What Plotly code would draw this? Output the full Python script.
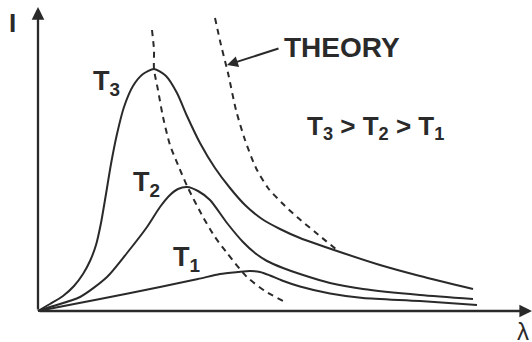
import plotly.graph_objects as go

# Schematic blackbody spectra (arbitrary units): wavelength vs intensity
lam_t3 = [0, 12, 25, 36, 45, 52, 58, 63, 68, 73, 79, 86, 95, 105, 116, 128, 139, 149, 162, 177, 192, 207, 224, 242, 262, 299, 342, 382, 435]
int_t3 = [0, 7, 15, 25, 37, 50, 66, 88, 117, 147, 177, 204, 225, 237, 242, 235, 218, 195, 168, 143, 123, 106, 92, 82, 73, 60, 46, 35, 22]

lam_t2 = [0, 12, 42, 69, 89, 109, 122, 132, 140, 149, 160, 172, 189, 205, 217, 229, 245, 262, 292, 325, 382, 435]
int_t2 = [0, 4, 14, 34, 58, 84, 104, 116, 122, 124, 120, 111, 88, 69, 58, 50, 43, 37, 28, 22, 16, 12]

lam_t1 = [0, 62, 122, 160, 182, 200, 212, 222, 232, 244, 262, 292, 325, 382, 439]
int_t1 = [0, 12, 24, 32, 37, 39, 40, 39, 35.5, 30.5, 24.5, 17.5, 13, 10, 6]

# Locus of peaks (Wien) and classical "theory" curve
lam_peak = [114, 116, 116, 120, 125, 132, 140, 150, 165, 177, 189, 209, 227, 245]
int_peak = [281, 261, 242, 221, 194, 166, 146, 123, 94, 74, 58, 34, 20, 10]

lam_theory = [177, 183, 190, 198, 207, 218, 230, 244, 259, 277, 299]
int_theory = [293, 266, 238, 201, 171, 143, 123, 108, 94, 79, 61]

INK = "#2a2a2a"
FONT = "Liberation Sans, Arial, sans-serif"

fig = go.Figure()

for lx, ly in [(lam_t3, int_t3), (lam_t2, int_t2), (lam_t1, int_t1)]:
    fig.add_trace(go.Scatter(x=lx, y=ly, mode="lines",
                             line=dict(color=INK, width=2, shape="spline", smoothing=0.7),
                             hoverinfo="skip", showlegend=False))

for lx, ly in [(lam_peak, int_peak), (lam_theory, int_theory)]:
    fig.add_trace(go.Scatter(x=lx, y=ly, mode="lines",
                             line=dict(color=INK, width=2, dash="6px,5px", shape="spline", smoothing=0.7),
                             hoverinfo="skip", showlegend=False))

annotations = []

# Axes with arrowheads
annotations.append(dict(x=0, y=304, ax=0, ay=0, axref="x", ayref="y", xref="x", yref="y",
                        text="", showarrow=True, arrowhead=2, arrowsize=1.1, arrowwidth=2.3,
                        arrowcolor=INK, standoff=0, startstandoff=0))
annotations.append(dict(x=494, y=0, ax=0, ay=0, axref="x", ayref="y", xref="x", yref="y",
                        text="", showarrow=True, arrowhead=2, arrowsize=1.1, arrowwidth=2.3,
                        arrowcolor=INK, standoff=0, startstandoff=0))

# Pointer to the theory curve
annotations.append(dict(x=189, y=246, ax=242, ay=263, axref="x", ayref="y", xref="x", yref="y",
                        text="", showarrow=True, arrowhead=2, arrowsize=1.1, arrowwidth=2,
                        arrowcolor=INK, standoff=0, startstandoff=0))


def label(x, y, text, size, bold=True, xanchor="center"):
    annotations.append(dict(x=x, y=y, xref="x", yref="y", text=text, showarrow=False,
                            xanchor=xanchor, yanchor="middle",
                            font=dict(family=FONT, size=size, color=INK,
                                      weight="bold" if bold else "normal")))


label(-25.5, 288.5, "I", 26)
label(477, -20, "λ", 24, bold=False, xanchor="left")
label(68, 228.5, "T<sub>3</sub>", 27)
label(108.5, 127.5, "T<sub>2</sub>", 27)
label(148, 52, "T<sub>1</sub>", 27)
label(303.5, 264, "THEORY", 28)
label(337.5, 183.5, "T<sub>3</sub> > T<sub>2</sub> > T<sub>1</sub>", 26)

fig.update_layout(
    width=532, height=342,
    margin=dict(l=0, r=0, t=0, b=0),
    paper_bgcolor="white", plot_bgcolor="white",
    xaxis=dict(range=[-38, 494], visible=False, fixedrange=True),
    yaxis=dict(range=[-31, 311], visible=False, fixedrange=True),
    annotations=annotations,
    showlegend=False,
)

fig.write_html("out.html")
